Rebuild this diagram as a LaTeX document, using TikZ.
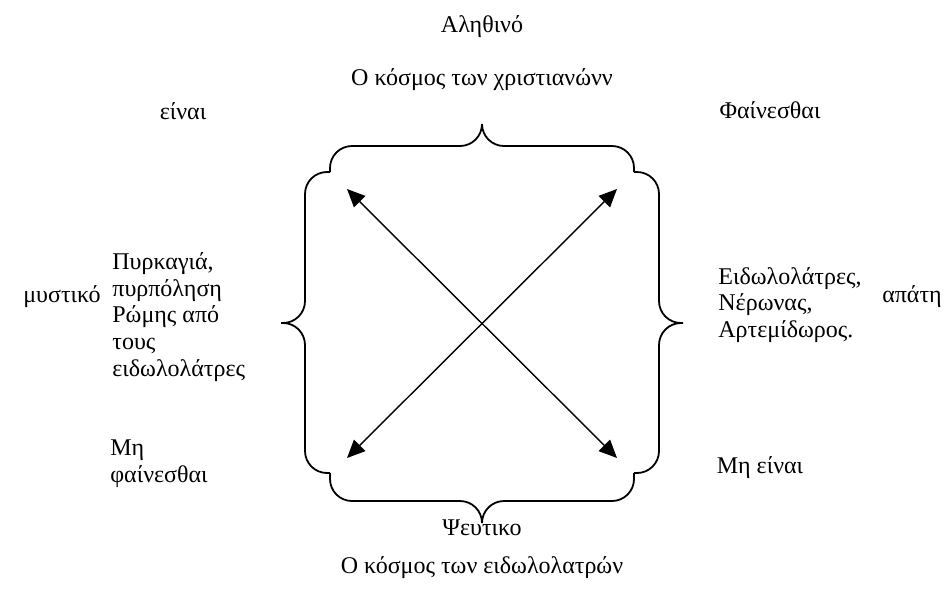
\documentclass[tikz,border=0pt]{standalone}
\usepackage{fontspec}
\setmainfont{Liberation Serif}
\usetikzlibrary{arrows.meta}

\begin{document}
\begin{tikzpicture}[x=0.5pt,y=-0.5pt,
    lbl/.style={font=\fontsize{12}{13.4}\selectfont, inner sep=0pt},
    bracepath/.style={line width=0.9pt, rounded corners=11pt},
    twoway/.style={line width=0.7pt, {Triangle[length=9pt,width=8pt]}-{Triangle[length=9pt,width=8pt]}}]
	\useasboundingbox (0,0) rectangle (945,596);

	%Titulos
	\node[lbl] (alithino) at (482,27) {Αληθινό};
	\node[lbl] (kosmosxr) at (482,80) {Ο κόσμος των χριστιανώνν};
	\node[lbl] (einai) at (183,111) {είναι};
	\node[lbl] (fainesthai) at (770,110) {Φαίνεσθαι};

	%Lados
	\node[lbl] (mystiko) at (62,297) {μυστικό};
	\node[lbl, anchor=west, align=left] (pyrkagia) at (112,317) {Πυρκαγιά,\\πυρπόληση\\Ρώμης από\\τους\\ειδωλολάτρες};
	\node[lbl, anchor=west, align=left] (eidolo) at (718,305) {Ειδωλολάτρες,\\Νέρωνας,\\Αρτεμίδωρος.};
	\node[lbl] (apati) at (912,297) {απάτη};

	%Baixo
	\node[lbl, anchor=west, align=left] (mifain) at (110,464) {Μη\\φαίνεσθαι};
	\node[lbl] (mieinai) at (760,468) {Μη είναι};
	\node[lbl] (pseftiko) at (482,528) {Ψευτικο};
	\node[lbl] (kosmoseid) at (482,568) {Ο κόσμος των ειδωλολατρών};

	%Chaves
	\draw[bracepath] (330,172) -- (330,146) -- (482,146) -- (482,124) (482,124) -- (482,146) -- (634,146) -- (634,172);
	\draw[bracepath] (330,172) -- (305,172) -- (305,323) -- (281,323) (281,323) -- (305,323) -- (305,473) -- (330,473);
	\draw[bracepath] (634,172) -- (659,172) -- (659,323) -- (683,323) (683,323) -- (659,323) -- (659,473) -- (634,473);
	\draw[bracepath] (330,473) -- (330,501) -- (482,501) -- (482,523) (482,523) -- (482,501) -- (634,501) -- (634,473);

	%Setas
	\coordinate (ul) at (347,189);
	\coordinate (ur) at (617,189);
	\coordinate (ll) at (347,458);
	\coordinate (lr) at (617,458);
	\draw[twoway] (ul) -- (lr);
	\draw[twoway] (ur) -- (ll);
\end{tikzpicture}
\end{document}
